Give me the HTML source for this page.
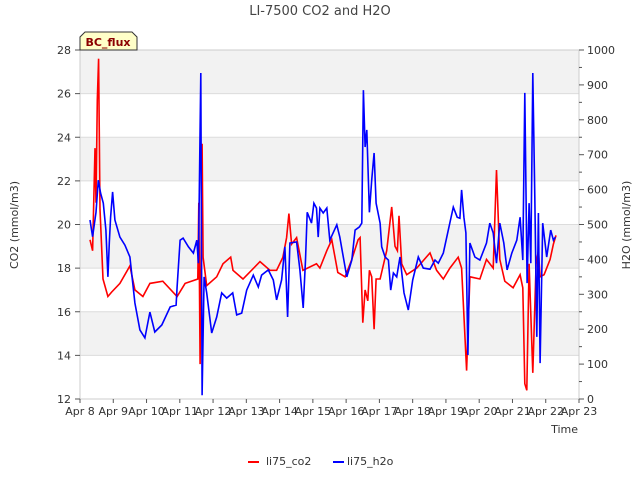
<!DOCTYPE html>
<html><head><meta charset="utf-8"><style>
body{margin:0;background:#fff;font-family:"Liberation Sans","DejaVu Sans",sans-serif}
</style></head><body>
<svg width="640" height="480" xmlns="http://www.w3.org/2000/svg" font-family="DejaVu Sans, Liberation Sans, sans-serif">
<g id="bands"></g>
<g id="grid"></g>
<rect x="80" y="50" width="499" height="349" fill="none" stroke="#ccc"/>
<g id="axes"></g>
<g id="series"></g>
<text x="320" y="15" text-anchor="middle" font-size="13" fill="#444">LI-7500 CO2 and H2O</text>
<text transform="translate(18,225) rotate(-90)" text-anchor="middle" font-size="11" fill="#333">CO2 (mmol/m3)</text>
<text transform="translate(630,225) rotate(-90)" text-anchor="middle" font-size="11" fill="#333">H2O (mmol/m3)</text>
<text x="578" y="433" text-anchor="end" font-size="11" fill="#333">Time</text>
<g>
<path d="M80,50 L80,37 L85,32 L132,32 L137,37 L137,50 Z" fill="#ffffc8" stroke="#333"/>
<text x="108" y="46" text-anchor="middle" font-size="11" font-weight="bold" fill="#8b0000">BC_flux</text>
</g>
<g>
<line x1="248" y1="462" x2="259" y2="462" stroke="#f00" stroke-width="2"/>
<text x="266" y="465" font-size="11" fill="#333">li75_co2</text>
<line x1="333" y1="462" x2="344" y2="462" stroke="#00f" stroke-width="2"/>
<text x="347" y="465" font-size="11" fill="#333">li75_h2o</text>
</g>
</svg>
<script>
const xLabels=["Apr 8","Apr 9","Apr 10","Apr 11","Apr 12","Apr 13","Apr 14","Apr 15","Apr 16","Apr 17","Apr 18","Apr 19","Apr 20","Apr 21","Apr 22","Apr 23"];
const co2Ticks=[12,14,16,18,20,22,24,26,28];
const h2oTicks=[0,100,200,300,400,500,600,700,800,900,1000];
const co2T=[0.30,0.38,0.45,0.48,0.52,0.56,0.60,0.69,0.84,0.95,1.20,1.50,1.65,1.89,2.10,2.49,2.92,3.16,3.54,3.57,3.61,3.67,3.70,3.81,4.11,4.30,4.53,4.60,4.90,5.41,5.71,5.91,6.10,6.21,6.28,6.36,6.51,6.70,7.11,7.21,7.42,7.57,7.75,7.97,8.17,8.36,8.42,8.50,8.57,8.65,8.70,8.77,8.84,8.90,9.02,9.22,9.37,9.47,9.54,9.59,9.67,9.82,10.12,10.52,10.72,10.92,11.12,11.37,11.47,11.62,11.72,12.02,12.22,12.42,12.52,12.62,12.77,13.02,13.23,13.31,13.37,13.43,13.50,13.61,13.71,13.78,13.83,13.95,14.13,14.23,14.31];
const co2V=[19.3,18.8,23.5,21,25.7,27.6,20.7,17.5,16.7,16.9,17.3,18.1,17.0,16.7,17.3,17.4,16.7,17.3,17.5,21,13.6,23.7,18.5,17.2,17.6,18.2,18.5,17.9,17.5,18.3,17.9,17.9,18.5,19.4,20.5,19.1,19.4,17.9,18.2,18.0,18.8,19.3,17.8,17.6,18.4,19.3,19.4,15.5,17.0,16.5,17.9,17.6,15.2,17.5,17.5,18.8,20.8,19.0,18.8,20.4,18.2,17.7,18.0,18.7,17.9,17.5,18.0,18.5,18.0,13.3,17.6,17.5,18.4,18.0,22.5,18.4,17.4,17.1,17.7,17.1,12.7,12.4,18.2,13.2,18.2,18.8,17.6,17.7,18.4,19.1,19.5];
const h2oT=[0.30,0.38,0.48,0.55,0.62,0.70,0.78,0.84,0.88,0.92,0.98,1.05,1.20,1.35,1.50,1.65,1.80,1.95,2.10,2.25,2.46,2.71,2.89,2.92,3.01,3.10,3.26,3.41,3.51,3.56,3.63,3.67,3.73,3.81,3.96,4.11,4.26,4.41,4.59,4.71,4.86,5.01,5.21,5.36,5.46,5.66,5.81,5.91,6.06,6.16,6.24,6.31,6.51,6.61,6.71,6.78,6.83,6.96,7.03,7.11,7.16,7.21,7.31,7.42,7.51,7.72,7.81,8.02,8.17,8.27,8.40,8.47,8.52,8.57,8.62,8.70,8.77,8.84,8.90,9.02,9.07,9.17,9.27,9.34,9.42,9.52,9.62,9.74,9.87,10.00,10.17,10.32,10.52,10.67,10.77,10.92,11.07,11.22,11.34,11.42,11.47,11.54,11.60,11.66,11.72,11.87,12.02,12.22,12.32,12.42,12.52,12.62,12.74,12.84,12.98,13.13,13.23,13.31,13.37,13.44,13.50,13.55,13.61,13.67,13.73,13.78,13.83,13.91,14.03,14.15,14.23,14.29];
const h2oV=[513,465,535,627,590,561,484,350,447,521,593,513,464,441,407,275,198,175,249,192,212,264,269,321,455,461,436,418,455,389,934,11,350,304,189,235,304,289,304,241,246,312,355,321,355,370,341,284,341,436,235,447,450,370,261,398,535,504,561,547,464,547,533,547,455,499,464,350,398,484,493,504,885,722,771,535,627,705,561,504,436,407,398,312,361,350,407,304,255,341,407,375,372,398,389,418,484,550,521,518,599,521,476,126,447,407,398,447,504,476,389,504,447,370,418,455,521,398,877,332,561,389,934,579,178,533,103,504,407,484,455,464];
const NS="http://www.w3.org/2000/svg";
const L=80,R=579,T=50,B=399;
const xs=d=>L+d*(R-L)/15;
const yc=v=>B-(v-12)*(B-T)/16;
const yh=v=>B-v*(B-T)/1000;
function mk(tag,attrs,parent){const e=document.createElementNS(NS,tag);for(const k in attrs)e.setAttribute(k,attrs[k]);document.getElementById(parent).appendChild(e);return e;}
for(let i=0;i<co2Ticks.length-1;i++){
 if(co2Ticks[i]%4===2){const r=mk('rect',{x:L,y:yc(co2Ticks[i+1]),width:R-L,height:yc(co2Ticks[i])-yc(co2Ticks[i+1]),fill:'#f2f2f2'},'bands');
 
 }
}
co2Ticks.forEach(v=>{
 const g=mk('line',{x1:L,x2:R,y1:yc(v),y2:yc(v),stroke:'#dcdcdc'},'grid');
 
 
 const t=mk('line',{x1:L-5,x2:L,y1:yc(v),y2:yc(v),stroke:'#555'},'axes');
 
 
 const tx=mk('text',{x:L-9,y:yc(v)+4,'text-anchor':'end','font-size':'11',fill:'#333'},'axes');tx.textContent=v;
 
 
});
h2oTicks.forEach(v=>{
 const t=mk('line',{x1:R,x2:R+5,y1:yh(v),y2:yh(v),stroke:'#555'},'axes');
 
 
 if(v<1000){const m=mk('line',{x1:R,x2:R+3,y1:yh(v+50),y2:yh(v+50),stroke:'#555'},'axes');
 
 }
 const tx=mk('text',{x:R+8,y:yh(v)+4,'font-size':'11',fill:'#333'},'axes');tx.textContent=v;
 
 
});
xLabels.forEach((s,i)=>{
 const t=mk('line',{x1:xs(i),x2:xs(i),y1:B,y2:B+4,stroke:'#555'},'axes');
 
 
 const tx=mk('text',{x:xs(i),y:B+16,'text-anchor':'middle','font-size':'11',fill:'#333'},'axes');tx.textContent=s;
 
 
});
const pc=mk('polyline',{points:co2T.map((d,i)=>xs(d).toFixed(1)+','+yc(co2V[i]).toFixed(1)).join(' '),fill:'none',stroke:'#f00','stroke-width':'1.6'},'series');


const ph=mk('polyline',{points:h2oT.map((d,i)=>xs(d).toFixed(1)+','+yh(h2oV[i]).toFixed(1)).join(' '),fill:'none',stroke:'#00f','stroke-width':'1.6'},'series');


</script>
</body></html>
